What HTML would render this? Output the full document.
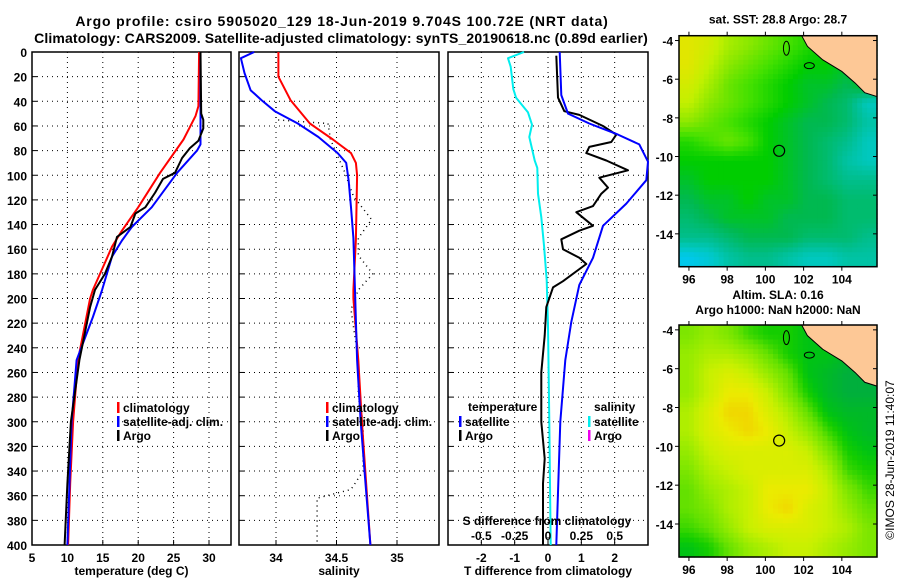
<!DOCTYPE html>
<html><head><meta charset="utf-8"><style>
body{margin:0;background:#fff;}
svg{display:block;font-family:"Liberation Sans",sans-serif;font-weight:bold;}
</style></head><body>
<svg id="c" width="900" height="580" viewBox="0 0 900 580"></svg>
<script>
// ---------- data ----------
const depthTicks=[0,20,40,60,80,100,120,140,160,180,200,220,240,260,280,300,320,340,360,380,400];
const tTicks=[5,10,15,20,25,30];
const sTicks=[34,34.5,35];
const dTTicks=[-2,-1,0,1,2];
const dSTicks=[-0.5,-0.25,0,0.25,0.5];
const dSTickLabels=["-0.5","-0.25","0","0.25","0.5"];

const tClimDepth=[0,44,52,71,98,126,145,158,180,193,200,250,300,350,400];
const tClimVal=[28.6,28.5,28.1,26.4,23.1,20.0,17.7,16.3,14.6,13.6,13.2,11.5,10.8,10.4,10.1];
const tSatDepth=[0,75,80,98,126,142,153,166,193,215,250,300,350,400];
const tSatVal=[28.8,28.8,28.3,25.5,21.9,19.1,17.7,16.3,14.9,13.6,11.3,10.6,10.3,10.0];
const tArgoDepth=[0,50,55,62,72,78,86,98,103,114,126,131,142,150,166,180,193,207,250,300,350,400];
const tArgoVal=[28.8,28.9,29.2,29.2,28.5,27.3,26.2,25.2,23.5,22.4,21.0,19.6,18.9,17.0,16.3,15.3,13.9,13.2,11.7,10.5,10.0,9.6];

const sClimDepth=[0,20,39,58,71,82,90,100,152,193,200,250,300,400];
const sClimVal=[34.02,34.02,34.12,34.28,34.47,34.62,34.66,34.67,34.66,34.64,34.64,34.68,34.71,34.78];
const sSatDepth=[0,5,17,31,39,48,58,69,82,90,104,126,151,183,250,300,350,400];
const sSatVal=[33.82,33.71,33.74,33.79,33.88,33.99,34.18,34.35,34.51,34.58,34.6,34.62,34.64,34.65,34.67,34.7,34.74,34.78];
const sArgoDepth=[0,40,55,58,71,98,117,136,151,165,180,193,209,250,280,300,340,355,362,400];
const sArgoVal=[34.0,34.0,34.0,34.43,34.45,34.57,34.64,34.79,34.68,34.68,34.8,34.68,34.62,34.68,34.68,34.72,34.72,34.62,34.34,34.34];

const dTSatDepth=[0,35,50,58,67,75,89,104,123,141,167,189,219,250,300,400];
const dTSatVal=[0.35,0.4,0.6,1.24,2.1,2.74,3.0,2.95,2.35,1.65,1.35,0.94,0.7,0.52,0.37,0.25];
const dTArgoDepth=[3,37,48,51,60,67,73,77,82,88,96,102,110,115,125,130,141,145,152,160,167,172,186,191,207,230,260,300,330,350,400];
const dTArgoVal=[0.25,0.3,0.49,0.94,1.65,2.05,1.9,1.24,1.15,1.75,2.4,1.54,1.8,1.6,1.35,0.85,1.35,0.94,0.4,0.45,0.94,1.15,0.45,0.15,-0.05,-0.1,-0.2,-0.2,-0.1,-0.15,-0.15];
const dSSatDepth=[0,5,12,30,37,49,59,69,88,94,115,134,157,185,222,300,400];
const dSSatVal=[-0.18,-0.30,-0.28,-0.26,-0.24,-0.15,-0.12,-0.14,-0.1,-0.08,-0.075,-0.05,-0.03,-0.01,0,0.01,0.02];

const latTicks=[-4,-6,-8,-10,-12,-14];
const lonTicks=[96,98,100,102,104];
const sstGrid=[
[.9,.85,.75,.7,.65,.6,.55,.5,.5,.5],
[.9,.8,.7,.65,.6,.55,.5,.5,.45,.4],
[.85,.75,.65,.6,.55,.5,.45,.45,.4,.5],
[.8,.7,.65,.6,.55,.5,.45,.4,.35,.2],
[.7,.65,.6,.55,.5,.45,.4,.4,.35,.25],
[.55,.6,.65,.6,.5,.45,.4,.35,.3,.2],
[.5,.5,.5,.5,.5,.45,.4,.35,.25,.2],
[.45,.5,.5,.5,.5,.45,.4,.35,.3,.3],
[.4,.45,.45,.5,.45,.45,.4,.4,.35,.35],
[.35,.4,.45,.45,.45,.4,.4,.4,.35,.35],
[.3,.3,.35,.4,.4,.4,.35,.35,.35,.3],
[.1,.15,.25,.3,.3,.25,.2,.2,.25,.25]];
const slaGrid=[
[.65,.7,.65,.55,.5,.5,.45,.45,.4,.4],
[.7,.75,.75,.7,.6,.5,.45,.45,.4,.4],
[.7,.8,.85,.8,.7,.6,.45,.4,.35,.35],
[.7,.8,.9,.9,.8,.65,.5,.4,.35,.35],
[.75,.85,.95,.95,.85,.75,.6,.45,.4,.4],
[.75,.85,.9,.95,.9,.8,.7,.55,.45,.4],
[.7,.8,.85,.85,.85,.85,.8,.65,.5,.45],
[.65,.75,.8,.85,.85,.85,.85,.75,.55,.5],
[.6,.7,.75,.8,.9,.9,.9,.8,.65,.55],
[.6,.65,.75,.8,.9,.95,.85,.8,.7,.6],
[.55,.6,.7,.8,.85,.85,.85,.8,.75,.65],
[.45,.5,.6,.7,.75,.8,.8,.75,.7,.65]];
const argoLon=100.72, argoLat=-9.704;

// ---------- helpers ----------
const NS="http://www.w3.org/2000/svg";
const svg=document.getElementById('c');
function mk(tag,attrs,parent){const e=document.createElementNS(NS,tag);for(const k in attrs)e.setAttribute(k,attrs[k]);(parent||svg).appendChild(e);return e;}
function txt(x,y,s,anchor,size,parent){const t=mk('text',{x:x,y:y,'text-anchor':anchor||'middle','font-size':size||12},parent);t.textContent=s;return t;}

const Y0=52,Y1=545;
const yD=d=>Y0+(d/400)*(Y1-Y0);
const panels=[
 {name:'temperature',x0:32,x1:231,min:5,max:(231-32)/7.08+5},
 {name:'salinity',x0:239,x1:439,min:34-(276-239)/121,max:34+(439-276)/121},
 {name:'difference',x0:448,x1:648,min:-3,max:3}
];
panels.forEach(p=>{p.fx=v=>p.x0+(v-p.min)/(p.max-p.min)*(p.x1-p.x0);});
const fS3=v=>panels[2].fx(v*4);

// titles
let g=mk('g',{});


const ti1=txt(342,26,'Argo profile: csiro 5905020_129 18-Jun-2019 9.704S 100.72E (NRT data)','middle',14,g);
ti1.setAttribute('letter-spacing','0.85');
const ti2=txt(341,43,'Climatology: CARS2009. Satellite-adjusted climatology: synTS_20190618.nc (0.89d earlier)','middle',14,g);
ti2.setAttribute('letter-spacing','0.15');

function panelFrame(p,ticks,labels,xlabel,key){
  const pg=mk('g',{});
  
  
  const grid=mk('g',{stroke:'#000','stroke-width':1,'stroke-dasharray':'1,4'},pg);
  depthTicks.forEach(d=>{if(d>0&&d<400){const l=mk('line',{x1:p.x0,x2:p.x1,y1:yD(d),y2:yD(d)},grid);}});
  ticks.forEach(v=>{const x=p.fx(v);if(x>p.x0+1&&x<p.x1-1){const l=mk('line',{x1:x,x2:x,y1:Y0,y2:Y1},grid);}});
  const r=mk('rect',{x:p.x0,y:Y0,width:p.x1-p.x0,height:Y1-Y0,fill:'none',stroke:'#000','stroke-width':1.5},pg);
  
  
  depthTicks.forEach(d=>{mk('line',{x1:p.x0,x2:p.x0+5,y1:yD(d),y2:yD(d),stroke:'#000'},pg);});
  const tl=mk('g',{},pg);
  
  
  ticks.forEach((v,i)=>{mk('line',{x1:p.fx(v),x2:p.fx(v),y1:Y1,y2:Y1-5,stroke:'#000'},pg);txt(p.fx(v),562,labels[i],'middle',12,tl);});
  const xl=txt((p.x0+p.x1)/2,575,xlabel,'middle',12,pg);
  
  
  return pg;
}
panelFrame(panels[0],tTicks,tTicks.map(String),'temperature (deg C)','temperature');
panelFrame(panels[1],sTicks,sTicks.map(String),'salinity','salinity');
panelFrame(panels[2],dTTicks,dTTicks.map(String),'T difference from climatology','difference');

const yl=mk('g',{});


depthTicks.forEach(d=>txt(27,yD(d)+5,String(d),'end',12,yl));

function series(fx,depths,vals,color,w,dash,name){
  const pts=depths.map((d,i)=>fx(vals[i]).toFixed(1)+','+yD(d).toFixed(1)).join(' ');
  const a={points:pts,fill:'none',stroke:color,'stroke-width':w,'stroke-linejoin':'round'};
  if(dash)a['stroke-dasharray']=dash;
  const l=mk('polyline',a);
  
  
}
const p0=panels[0],p1=panels[1],p2=panels[2];
series(p0.fx,tClimDepth,tClimVal,'#f00',2,null,'temperature-climatology-line');
series(p0.fx,tSatDepth,tSatVal,'#00f',2,null,'temperature-satellite-line');
series(p0.fx,tArgoDepth,tArgoVal,'#000',2,null,'temperature-argo-line');
series(p1.fx,sArgoDepth,sArgoVal,'#000',1.5,'1,4','salinity-argo-line');
series(p1.fx,sClimDepth,sClimVal,'#f00',2,null,'salinity-climatology-line');
series(p1.fx,sSatDepth,sSatVal,'#00f',2,null,'salinity-satellite-line');
series(fS3,dSSatDepth,dSSatVal,'#0ee',2,null,'salinity-diff-satellite-line');
series(p2.fx,dTArgoDepth,dTArgoVal,'#000',2,null,'temperature-diff-argo-line');
series(p2.fx,dTSatDepth,dTSatVal,'#00f',2,null,'temperature-diff-satellite-line');

// legends
function legend(x,y,color,label){
  const lg=mk('g',{});
  
  
  mk('rect',{x:x,y:y-10,width:2.5,height:11,fill:color},lg);
  txt(x+6,y,label,'start',12,lg);
}
legend(117,412,'#f00','climatology');legend(117,426,'#00f','satellite-adj. clim.');legend(117,440,'#000','Argo');
legend(326,412,'#f00','climatology');legend(326,426,'#00f','satellite-adj. clim.');legend(326,440,'#000','Argo');
const lt=txt(468,411,'temperature','start',12);
legend(459,426,'#00f','satellite');legend(459,440,'#000','Argo');
const ls=txt(594,411,'salinity','start',12);
legend(588,426,'#0ee','satellite');legend(588,440,'#e0e','Argo');
const sa=mk('g',{});


txt(547,525,'S difference from climatology','middle',12,sa);
dSTicks.forEach((v,i)=>{txt(fS3(v),540,dSTickLabels[i],'middle',12,sa);});

// maps
function col(v,kind){
  const stops=kind==='sst'?
   [[0.1,[0,200,235]],[0.2,[0,200,190]],[0.3,[0,190,140]],[0.4,[0,185,80]],[0.5,[0,205,0]],[0.6,[70,225,0]],[0.7,[140,232,0]],[0.8,[195,240,0]],[0.9,[225,230,0]]]:
   [[0.35,[0,175,60]],[0.45,[0,195,20]],[0.5,[20,205,0]],[0.6,[100,225,0]],[0.7,[150,235,0]],[0.8,[200,240,0]],[0.9,[235,235,0]],[0.95,[240,215,0]]];
  if(v<=stops[0][0])return 'rgb('+stops[0][1]+')';
  for(let i=1;i<stops.length;i++){if(v<=stops[i][0]){const a=stops[i-1],b=stops[i],t=(v-a[0])/(b[0]-a[0]);return 'rgb('+a[1].map((c,k)=>Math.round(c+(b[1][k]-c)*t)).join(',')+')';}}
  return 'rgb('+stops[stops.length-1][1]+')';
}
function drawMap(top,bot,grid,kind,title1,title2){
  const L=679,R=877,lonMin=95.48,lonMax=105.84,latTop=-3.75,latBot=-15.7;
  const fx=lo=>L+(lo-lonMin)/(lonMax-lonMin)*(R-L);
  const fy=la=>top+(latTop-la)/(latTop-latBot)*(bot-top);
  const mg=mk('g',{});
  
  
  const rows=grid.length,cols=grid[0].length,sub=4;
  const cw=(R-L)/(cols*sub),ch=(bot-top)/(rows*sub);
  for(let r=0;r<rows*sub;r++)for(let c=0;c<cols*sub;c++){
    const gr=Math.min(rows-1,Math.max(0,(r+0.5)/sub-0.5)),gc=Math.min(cols-1,Math.max(0,(c+0.5)/sub-0.5));
    const r0=Math.floor(gr),c0=Math.floor(gc),r1=Math.min(rows-1,r0+1),c1=Math.min(cols-1,c0+1),fr=gr-r0,fc=gc-c0;
    const v=grid[r0][c0]*(1-fr)*(1-fc)+grid[r0][c1]*(1-fr)*fc+grid[r1][c0]*fr*(1-fc)+grid[r1][c1]*fr*fc;
    const cell=mk('rect',{x:(L+c*cw).toFixed(2),y:(top+r*ch).toFixed(2),width:(cw+0.6).toFixed(2),height:(ch+0.6).toFixed(2),fill:col(v,kind)},mg);
    
    
  }
  const land=[[101.9,-3.75],[102.2,-4.3],[103,-5],[104,-5.6],[104.7,-6.2],[105.2,-6.7],[105.84,-6.9],[105.84,-3.75]];
  const lp=mk('polygon',{points:land.map(p=>fx(p[0])+','+fy(p[1])).join(' '),fill:'#fdc896',stroke:'#000','stroke-width':1},mg);
  
  
  mk('ellipse',{cx:fx(101.1),cy:fy(-4.4),rx:3,ry:7,fill:'none',stroke:'#000'},mg);
  mk('ellipse',{cx:fx(102.3),cy:fy(-5.3),rx:5,ry:3,fill:'none',stroke:'#000'},mg);
  const c=mk('circle',{cx:fx(argoLon),cy:fy(argoLat),r:5.5,fill:'none',stroke:'#000','stroke-width':1.2},mg);
  
  
  mk('rect',{x:L,y:top,width:R-L,height:bot-top,fill:'none',stroke:'#000','stroke-width':1.5},mg);
  latTicks.forEach(la=>{mk('line',{x1:L,x2:L-4,y1:fy(la),y2:fy(la),stroke:'#000'},mg);mk('line',{x1:R,x2:R-4,y1:fy(la),y2:fy(la),stroke:'#000'},mg);txt(673,fy(la)+5,String(la),'end',12,mg);});
  lonTicks.forEach(lo=>{mk('line',{x1:fx(lo),x2:fx(lo),y1:bot,y2:bot+4,stroke:'#000'},mg);mk('line',{x1:fx(lo),x2:fx(lo),y1:top,y2:top-4,stroke:'#000'},mg);txt(fx(lo),bot+17,String(lo),'middle',12,mg);});
  const t1=txt(778,title2?top-26:top-12,title1,'middle',12,mg);
  
  
  if(title2){const t2=txt(778,top-11,title2,'middle',12,mg);}
}
drawMap(35.7,266.7,sstGrid,'sst','sat. SST: 28.8 Argo: 28.7',null);
drawMap(325,557,slaGrid,'sla','Altim. SLA: 0.16','Argo h1000: NaN h2000: NaN');

const cr=mk('text',{x:0,y:0,'font-size':12,'font-weight':'normal',transform:'translate(894,460) rotate(-90)','text-anchor':'middle'});
cr.textContent='©IMOS 28-Jun-2019 11:40:07';


</script>
</body></html>
